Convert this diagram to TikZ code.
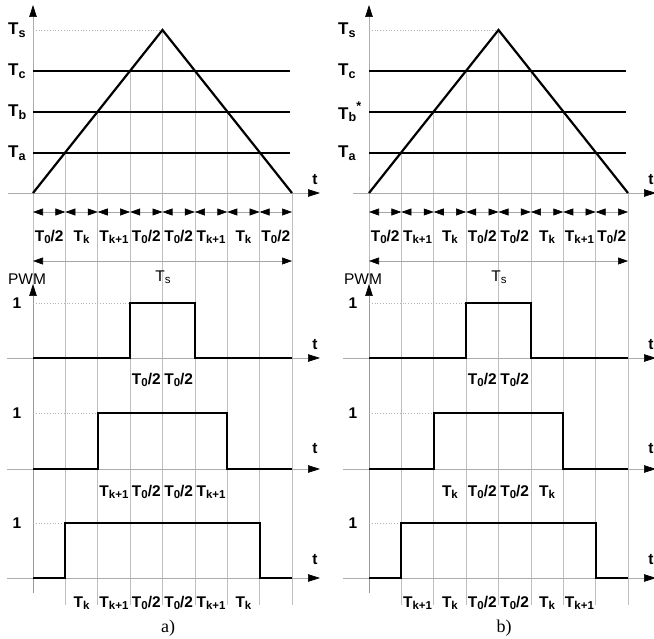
\documentclass[tikz,border=0pt]{standalone}
\usepackage{fontspec}
\setmainfont{Liberation Sans}
\newfontfamily\capfont{Liberation Serif}
\usetikzlibrary{arrows.meta}
\makeatletter
\newcommand\mysub[1]{\raisebox{-0.28ex}{\fontsize{\dimexpr0.74\dimexpr\f@size pt\relax\relax}{1em}\selectfont #1}}
\newcommand\mysup[1]{\raisebox{0.9ex}{\fontsize{\dimexpr0.74\dimexpr\f@size pt\relax\relax}{1em}\selectfont #1}}
\makeatother
\newcommand\Th{T\mysub{0}/2}
\newcommand\Tk{T\mysub{k}}
\newcommand\Tkk{T\mysub{k+1}}
\tikzset{
  thickline/.style={line width=2.2pt, line join=miter, line cap=butt},
  gridline/.style={draw=gray!50, line width=0.6pt},
  dotline/.style={draw=gray!60, dotted, line width=0.8pt},
  axisarrow/.style={draw=gray!65, line width=0.7pt, -{Triangle[length=12pt,width=7.5pt,color=black]}},
  dimarrow/.style={draw=gray!70, line width=0.6pt, {Triangle[length=10pt,width=7pt,color=black]}-{Triangle[length=10pt,width=7pt,color=black]}},
  lab/.style={font=\fontsize{15.5}{17}\selectfont\bfseries, inner sep=0pt},
  lvl/.style={font=\fontsize{17}{19}\selectfont\bfseries, inner sep=0pt, anchor=west},
  reglab/.style={font=\fontsize{15.5}{17}\selectfont, inner sep=0pt},
  caplab/.style={font=\fontsize{18}{20}\capfont, inner sep=0pt},
}
% #1 shift, #2 level label x, #3 top t-axis start, #4 Tb text, #5 top list, #6 p2 list, #7 p3 list, #8 caption, #9 prefix
\newcommand\drawpanel[9]{%
\begin{scope}[xshift=#1pt, name prefix=#9-]
  % grid lines
  \foreach \i/\yy in {1/153,2/112,3/71,4/30,5/71,6/112,7/153,8/193}
    \draw[gridline] ({33+32.375*\i},\yy) -- ({33+32.375*\i},605);
  \draw[gridline] (33,193) -- (33,285);
  % top axes
  \coordinate (yb) at (33,193);
  \coordinate (yt) at (33,5);
  \coordinate (tb) at (#3,193);
  \coordinate (te) at (320,193);
  \draw[axisarrow] (yb) -- (yt);
  \draw[axisarrow] (tb) -- (te);
  \node[lab] (tlab) at (315,180) {t};
  % levels
  \draw[dotline] (33,30) -- (162.5,30);
  \foreach \yy in {71,112,153}
    \draw[thickline] (33,\yy) -- (290,\yy);
  \coordinate (p0) at (33,193);
  \coordinate (p1) at (162.5,30);
  \coordinate (p2) at (292,193);
  \draw[thickline] (p0) -- (p1) -- (p2);
  \node[lvl] (Ts) at (#2,30) {T\mysub{s}};
  \node[lvl] (Tc) at (#2,71) {T\mysub{c}};
  \node[lvl] (Tb) at (#2,112) {#4};
  \node[lvl] (Ta) at (#2,153) {T\mysub{a}};
  % interval arrows and labels
  \foreach \lab [count=\i from 0] in {#5} {
    \coordinate (da\i) at ({33+32.375*\i},212);
    \coordinate (db\i) at ({33+32.375*(\i+1)},212);
    \draw[dimarrow] (da\i) -- (db\i);
    \node[lab] (top\i) at ({33+32.375*(\i+0.5)},237) {\lab};
  }
  \coordinate (sa) at (33,261);
  \coordinate (sb) at (292,261);
  \draw[dimarrow] (sa) -- (sb);
  \node[reglab] (Tsspan) at (163,277) {T\mysub{s}};
  % PWM axis
  \node[reglab] (pwm) at (27,279) {PWM};
  \coordinate (pa) at (33,593);
  \coordinate (pb) at (33,284);
  \draw[axisarrow, draw=gray!80] (pa) -- (pb);
  % PWM 1
  \coordinate (a1) at (7,358);
  \coordinate (b1) at (320,358);
  \draw[axisarrow] (a1) -- (b1);
  \node[lab] (t1) at (315,345) {t};
  \node[lab] (one1) at (17,303) {1};
  \draw[dotline] (33,303) -- (130.125,303);
  \draw[thickline] (33,358) -- (130.125,358) -- (130.125,303) -- (194.875,303) -- (194.875,358) -- (292,358);
  \node[lab] (l1a) at ({33+32.375*3.5},380) {\Th};
  \node[lab] (l1b) at ({33+32.375*4.5},380) {\Th};
  % PWM 2
  \coordinate (a2) at (7,469);
  \coordinate (b2) at (320,469);
  \draw[axisarrow] (a2) -- (b2);
  \node[lab] (t2) at (315,449) {t};
  \node[lab] (one2) at (17,413) {1};
  \draw[dotline] (33,413) -- (97.75,413);
  \draw[thickline] (33,469) -- (97.75,469) -- (97.75,413) -- (227.25,413) -- (227.25,469) -- (292,469);
  \foreach \lab [count=\i from 2] in {#6}
    \node[lab] (l2\i) at ({33+32.375*(\i+0.5)},492) {\lab};
  % PWM 3
  \coordinate (a3) at (7,578);
  \coordinate (b3) at (320,578);
  \draw[axisarrow] (a3) -- (b3);
  \node[lab] (t3) at (315,560) {t};
  \node[lab] (one3) at (17,523) {1};
  \draw[dotline] (33,523) -- (65.375,523);
  \draw[thickline] (33,578) -- (65.375,578) -- (65.375,523) -- (259.625,523) -- (259.625,578) -- (292,578);
  \foreach \lab [count=\i from 1] in {#7}
    \node[lab] (l3\i) at ({33+32.375*(\i+0.5)},603) {\lab};
  \node[caplab] (cap) at (168,628) {#8};
\end{scope}}

\begin{document}
\begin{tikzpicture}[x=1pt, y=-1pt]
  \fill[white] (0,0) rectangle (654,639);
  \useasboundingbox (0,0) rectangle (654,639);
  \drawpanel{0}{8}{8}{T\mysub{b}}{\Th,\Tk,\Tkk,\Th,\Th,\Tkk,\Tk,\Th}{\Tkk,\Th,\Th,\Tkk}{\Tk,\Tkk,\Th,\Th,\Tkk,\Tk}{a)}{L}
  \drawpanel{336}{2}{17}{T\mysub{b}\mysup{*}}{\Th,\Tkk,\Tk,\Th,\Th,\Tk,\Tkk,\Th}{\Tk,\Th,\Th,\Tk}{\Tkk,\Tk,\Th,\Th,\Tk,\Tkk}{b)}{R}
\end{tikzpicture}
\end{document}
